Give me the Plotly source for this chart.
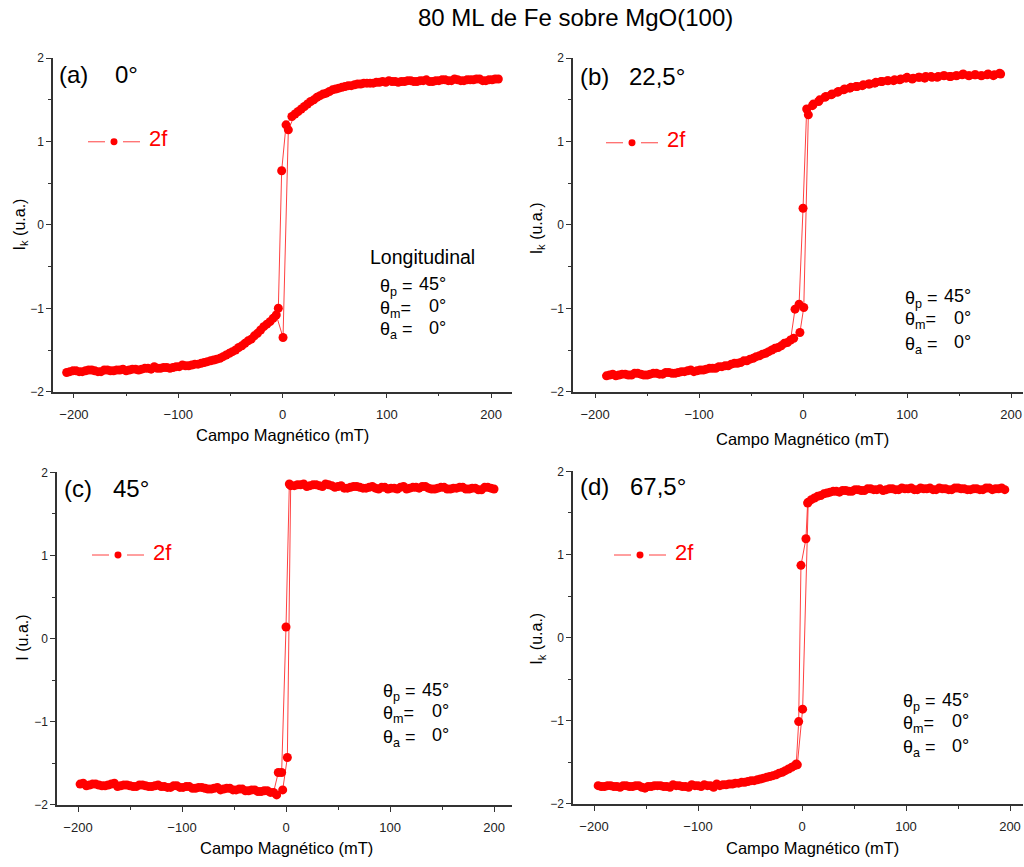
import plotly.graph_objects as go

W, H = 1024, 867
FONT = "Liberation Sans, Arial, sans-serif"
RED = "#ff0000"

# ---------------- data (field in mT, Kerr intensity in a.u.) ----------------
# (a) 0 deg
a_down_x = [207, 201, 195, 189, 183, 177, 171, 165, 159, 153, 147, 141, 135, 129, 123, 117, 111, 105, 99, 93,
            87, 81, 75, 69, 63, 57, 51, 45, 39, 33, 27, 21, 15, 9,
            3.4, -0.8, -4,
            -9, -15, -21, -27, -33, -39, -45, -51, -57, -63, -69, -75, -81, -87, -93, -99, -105, -111, -117,
            -123, -129, -135, -141, -147, -153, -159, -165, -171, -177, -183, -189, -195, -201, -207]
a_down_y = [1.75, 1.74, 1.73, 1.75, 1.74, 1.74, 1.73, 1.75, 1.73, 1.74, 1.73, 1.72, 1.73, 1.72, 1.73, 1.72, 1.71,
            1.72, 1.71, 1.71, 1.70, 1.70, 1.69, 1.68, 1.67, 1.65, 1.63, 1.60, 1.57, 1.53, 1.48, 1.42, 1.36, 1.30,
            1.20, 0.65, -1.00,
            -1.12, -1.19, -1.26, -1.33, -1.39, -1.45, -1.50, -1.54, -1.58, -1.61, -1.63, -1.65, -1.67, -1.68,
            -1.69, -1.70, -1.71, -1.71, -1.72, -1.70, -1.72, -1.73, -1.73, -1.74, -1.73, -1.74, -1.75, -1.74,
            -1.76, -1.74, -1.75, -1.76, -1.75, -1.77]
a_up_x = [-204, -198, -192, -186, -180, -174, -168, -162, -156, -150, -144, -138, -132, -126, -120, -114, -108,
          -102, -96, -90, -84, -78, -72, -66, -60, -54, -48, -42, -36, -30, -24, -18, -12, -6,
          0.5, 5.6,
          12, 18, 24, 30, 36, 42, 48, 54, 60, 66, 72, 78, 84, 90, 96, 102, 108, 114, 120, 126, 132, 138, 144,
          150, 156, 162, 168, 174, 180, 186, 192, 198, 204]
a_up_y = [-1.76, -1.75, -1.76, -1.74, -1.75, -1.76, -1.74, -1.75, -1.74, -1.75, -1.73, -1.74, -1.72, -1.73,
          -1.72, -1.71, -1.72, -1.70, -1.68, -1.69, -1.67, -1.66, -1.64, -1.62, -1.60, -1.56, -1.52, -1.47,
          -1.42, -1.37, -1.30, -1.22, -1.16, -1.08,
          -1.35, 1.14,
          1.33, 1.39, 1.45, 1.50, 1.55, 1.58, 1.62, 1.64, 1.66, 1.67, 1.69, 1.70, 1.70, 1.71, 1.72, 1.73, 1.72,
          1.72, 1.73, 1.72, 1.73, 1.74, 1.72, 1.73, 1.74, 1.73, 1.74, 1.73, 1.74, 1.75, 1.73, 1.74, 1.75]

# (b) 22,5 deg
b_down_x = [190, 184, 178, 172, 166, 160, 154, 148, 142, 136, 130, 124, 118, 112, 106, 100, 94, 88, 82, 76, 70,
            64, 58, 52, 46, 40, 34, 28, 22, 16, 10,
            3.5, 0, -3.8, -7.7,
            -12, -18, -24, -30, -36, -42, -48, -54, -60, -66, -72, -78, -84, -90, -96, -102, -108, -114, -120,
            -126, -132, -138, -144, -150, -156, -162, -168, -174, -180, -186]
b_down_y = [1.81, 1.80, 1.81, 1.79, 1.80, 1.79, 1.81, 1.79, 1.78, 1.79, 1.78, 1.77, 1.78, 1.77, 1.76, 1.77, 1.75,
            1.74, 1.73, 1.72, 1.71, 1.69, 1.68, 1.66, 1.65, 1.63, 1.60, 1.57, 1.54, 1.50, 1.45,
            1.39, 0.20, -0.95, -1.01,
            -1.38, -1.42, -1.47, -1.50, -1.54, -1.57, -1.60, -1.63, -1.65, -1.66, -1.69, -1.70, -1.72, -1.72,
            -1.74, -1.75, -1.74, -1.76, -1.77, -1.78, -1.77, -1.79, -1.78, -1.80, -1.79, -1.78, -1.80, -1.79,
            -1.81, -1.80]
b_up_x = [-189, -183, -177, -171, -165, -159, -153, -147, -141, -135, -129, -123, -117, -111, -105, -99, -93,
          -87, -81, -75, -69, -63, -57, -51, -45, -39, -33, -27, -21, -15, -9,
          -3, 0.7, 5.1,
          9, 15, 21, 27, 33, 39, 45, 51, 57, 63, 69, 75, 81, 87, 93, 99, 105, 111, 117, 123, 129, 135, 141,
          147, 153, 159, 165, 171, 177, 183, 189]
b_up_y = [-1.81, -1.79, -1.80, -1.79, -1.80, -1.78, -1.80, -1.79, -1.78, -1.79, -1.77, -1.78, -1.76, -1.75,
          -1.76, -1.74, -1.73, -1.72, -1.70, -1.69, -1.67, -1.66, -1.63, -1.61, -1.58, -1.55, -1.52, -1.48,
          -1.45, -1.41, -1.36,
          -1.29, -0.99, 1.32,
          1.43, 1.48, 1.53, 1.56, 1.59, 1.62, 1.64, 1.66, 1.67, 1.69, 1.70, 1.72, 1.73, 1.73, 1.74, 1.76, 1.75,
          1.77, 1.76, 1.78, 1.77, 1.79, 1.78, 1.79, 1.80, 1.79, 1.80, 1.79, 1.80, 1.79, 1.82]

# (c) 45 deg
c_down_x = [200, 194, 188, 182, 176, 170, 164, 158, 152, 146, 140, 134, 128, 122, 116, 110, 104, 98, 92, 86, 80,
            74, 68, 62, 56, 50, 44, 38, 32, 26, 20, 14, 8,
            3.2, 0, -4.2, -7.4,
            -12, -18, -24, -30, -36, -42, -48, -54, -60, -66, -72, -78, -84, -90, -96, -102, -108, -114, -120,
            -126, -132, -138, -144, -150, -156, -162, -168, -174, -180, -186, -192, -198]
c_down_y = [1.80, 1.82, 1.79, 1.81, 1.80, 1.82, 1.81, 1.80, 1.82, 1.81, 1.80, 1.83, 1.81, 1.82, 1.80, 1.82, 1.81,
            1.80, 1.82, 1.81, 1.82, 1.81, 1.83, 1.82, 1.81, 1.83, 1.84, 1.86, 1.84, 1.85, 1.83, 1.85, 1.84,
            1.86, 0.14, -1.61, -1.61,
            -1.85, -1.83, -1.84, -1.82, -1.83, -1.81, -1.82, -1.80, -1.81, -1.79, -1.81, -1.80, -1.79, -1.80,
            -1.78, -1.79, -1.77, -1.79, -1.78, -1.77, -1.78, -1.76, -1.78, -1.77, -1.76, -1.78, -1.75, -1.77,
            -1.76, -1.75, -1.77, -1.75]
c_up_x = [-195, -189, -183, -177, -171, -165, -159, -153, -147, -141, -135, -129, -123, -117, -111, -105, -99,
          -93, -87, -81, -75, -69, -63, -57, -51, -45, -39, -33, -27, -21, -15, -9,
          -3.2, 1.3, 4.5,
          11, 17, 23, 29, 35, 41, 47, 53, 59, 65, 71, 77, 83, 89, 95, 101, 107, 113, 119, 125, 131, 137, 143,
          149, 155, 161, 167, 173, 179, 185, 191, 197]
c_up_y = [-1.74, -1.76, -1.75, -1.77, -1.76, -1.74, -1.77, -1.76, -1.78, -1.76, -1.77, -1.78, -1.76, -1.78,
          -1.79, -1.77, -1.79, -1.78, -1.80, -1.79, -1.81, -1.80, -1.82, -1.80, -1.82, -1.81, -1.83, -1.82,
          -1.84, -1.83, -1.85, -1.88,
          -1.82, -1.43, 1.84,
          1.85, 1.86, 1.84, 1.85, 1.83, 1.85, 1.82, 1.84, 1.81, 1.83, 1.82, 1.81, 1.83, 1.80, 1.82, 1.81, 1.80,
          1.83, 1.81, 1.82, 1.83, 1.81, 1.80, 1.82, 1.80, 1.81, 1.82, 1.80, 1.81, 1.79, 1.82, 1.81]

# (d) 67,5 deg
d_down_x = [195, 189, 183, 177, 171, 165, 159, 153, 147, 141, 135, 129, 123, 117, 111, 105, 99, 93, 87, 81, 75,
            69, 63, 57, 51, 45, 39, 33, 27, 21, 15, 9,
            5.4, 3.8, -1.0, -3.2, -5.5,
            -10, -16, -22, -28, -34, -40, -46, -52, -58, -64, -70, -76, -82, -88, -94, -100, -106, -112, -118,
            -124, -130, -136, -142, -148, -154, -160, -166, -172, -178, -184, -190, -196]
d_down_y = [1.78, 1.79, 1.78, 1.80, 1.78, 1.79, 1.78, 1.79, 1.80, 1.78, 1.79, 1.78, 1.80, 1.79, 1.78, 1.80, 1.79,
            1.78, 1.79, 1.78, 1.79, 1.78, 1.79, 1.77, 1.78, 1.76, 1.77, 1.76, 1.75, 1.73, 1.70, 1.66,
            1.62, 1.19, 0.87, -1.01, -1.52,
            -1.56, -1.60, -1.63, -1.66, -1.68, -1.70, -1.72, -1.73, -1.74, -1.75, -1.76, -1.77, -1.76, -1.78,
            -1.77, -1.78, -1.77, -1.79, -1.78, -1.77, -1.79, -1.78, -1.78, -1.79, -1.80, -1.78, -1.79, -1.78,
            -1.79, -1.78, -1.79, -1.78]
d_up_x = [-193, -187, -181, -175, -169, -163, -157, -151, -145, -139, -133, -127, -121, -115, -109, -103, -97,
          -91, -85, -79, -73, -67, -61, -55, -49, -43, -37, -31, -25, -19, -13, -7,
          -4.5, 0.6, 6.0,
          12, 18, 24, 30, 36, 42, 48, 54, 60, 66, 72, 78, 84, 90, 96, 102, 108, 114, 120, 126, 132, 138, 144,
          150, 156, 162, 168, 174, 180, 186, 192]
d_up_y = [-1.79, -1.78, -1.79, -1.80, -1.78, -1.79, -1.78, -1.81, -1.79, -1.78, -1.79, -1.80, -1.78, -1.79,
          -1.80, -1.78, -1.79, -1.78, -1.80, -1.78, -1.77, -1.76, -1.75, -1.74, -1.72, -1.71, -1.69, -1.67,
          -1.65, -1.62, -1.58, -1.54,
          -1.53, -0.86, 1.63,
          1.68, 1.71, 1.74, 1.76, 1.75, 1.77, 1.76, 1.78, 1.77, 1.79, 1.78, 1.77, 1.79, 1.78, 1.80, 1.79, 1.78,
          1.80, 1.79, 1.78, 1.80, 1.79, 1.78, 1.80, 1.79, 1.78, 1.79, 1.78, 1.80, 1.79, 1.80]

x_ticks = [-200, -100, 0, 100, 200]
y_ticks = [-2, -1, 0, 1, 2]

title_text = "80 ML de Fe sobre MgO(100)"
x_title = "Campo Magnético (mT)"
panel_tags = ["(a)", "(b)", "(c)", "(d)"]
panel_angles = ["0°", "22,5°", "45°", "67,5°"]
y_titles = ["I<sub>k</sub> (u.a.)", "I<sub>k</sub> (u.a.)", "I (u.a.)", "I<sub>k</sub> (u.a.)"]
series_name = "2f"

for xs, ys in [(a_down_x, a_down_y), (a_up_x, a_up_y), (b_down_x, b_down_y), (b_up_x, b_up_y),
               (c_down_x, c_down_y), (c_up_x, c_up_y), (d_down_x, d_down_y), (d_up_x, d_up_y)]:
    assert len(xs) == len(ys), (len(xs), len(ys))

# ---------------- layout geometry (pixels) ----------------
panels = [
    dict(x=a_down_x + a_up_x, y=a_down_y + a_up_y, xpx=(53, 512), ypx=(52, 391), xr=(-220.1, 220.1),
         tag=(57, 69), ang=(113, 69), leg=(88, 137), xt=(282, 435), yt=(20, 221),
         info=dict(left=378, right=448, ys=(283, 305, 327)), longi=(368, 254)),
    dict(x=b_down_x + b_up_x, y=b_down_y + b_up_y, xpx=(573, 1023), ypx=(52, 391), xr=(-221.2, 211.5),
         tag=(578, 71), ang=(627, 71), leg=(606, 138), xt=(802, 439), yt=(537, 225),
         info=dict(left=903, right=973, ys=(295, 317, 342)), longi=None),
    dict(x=c_down_x + c_up_x, y=c_down_y + c_up_y, xpx=(57, 512), ypx=(473, 811), xr=(-220.2, 217.3),
         tag=(62, 489), ang=(111, 489), leg=(92, 557), xt=(286, 855), yt=(23, 641),
         info=dict(left=381, right=451, ys=(695, 717, 741)), longi=None),
    dict(x=d_down_x + d_up_x, y=d_down_y + d_up_y, xpx=(573, 1023), ypx=(472, 810), xr=(-220.2, 212.5),
         tag=(578, 487), ang=(628, 487), leg=(614, 557), xt=(812, 855), yt=(538, 642),
         info=dict(left=901, right=971, ys=(705, 727, 752)), longi=None),
]


def PX(x):
    return x / W


def PY(y):
    return 1 - y / H


def ann(text, x, y, size, color="#000000", xanchor="left", yanchor="middle", angle=0):
    return dict(text=text, x=PX(x), y=PY(y), xref="paper", yref="paper", showarrow=False,
                xanchor=xanchor, yanchor=yanchor, textangle=angle,
                font=dict(family=FONT, size=size, color=color))


fig = go.Figure()
layout = dict(width=W, height=H, margin=dict(l=0, r=0, t=0, b=0), autosize=False,
              paper_bgcolor="white", plot_bgcolor="white", showlegend=False)
annotations = [ann(title_text, 575, 11, 24, xanchor="center")]
shapes = []

AX = "#333333"
for i, p in enumerate(panels):
    n = "" if i == 0 else str(i + 1)
    fig.add_trace(go.Scatter(
        x=p["x"], y=p["y"], mode="lines+markers", name=series_name,
        line=dict(color="rgba(255,0,0,0.75)", width=1),
        marker=dict(color=RED, size=9, line=dict(width=0)),
        xaxis="x" + n, yaxis="y" + n, showlegend=False))
    layout["xaxis" + n] = dict(
        domain=[PX(p["xpx"][0]), PX(p["xpx"][1])], range=list(p["xr"]), anchor="y" + n,
        tickmode="array", tickvals=x_ticks, ticks="outside", ticklen=5, tickwidth=1.2, tickcolor=AX,
        minor=dict(ticks="outside", ticklen=3, tickwidth=1.2, tickcolor=AX, dtick=50, tick0=0),
        showline=True, linecolor=AX, linewidth=1.5, showgrid=False, zeroline=False,
        ticklabelstandoff=5,
        tickfont=dict(family=FONT, size=13, color="#222222"))
    layout["yaxis" + n] = dict(
        domain=[PY(p["ypx"][1]), PY(p["ypx"][0])], range=[-2, 2], anchor="x" + n,
        tickmode="array", tickvals=y_ticks, ticks="outside", ticklen=5, tickwidth=1.2, tickcolor=AX,
        minor=dict(ticks="outside", ticklen=3, tickwidth=1.2, tickcolor=AX, dtick=0.5, tick0=0),
        showline=True, linecolor=AX, linewidth=1.5, showgrid=False, zeroline=False,
        tickfont=dict(family=FONT, size=12, color="#222222"))

    # panel label and angle
    annotations.append(ann(panel_tags[i], p["tag"][0], p["tag"][1], 24))
    annotations.append(ann(panel_angles[i], p["ang"][0], p["ang"][1], 24))
    # axis titles
    annotations.append(ann(x_title, p["xt"][0], p["xt"][1], 16.5, xanchor="center"))
    annotations.append(ann(y_titles[i], p["yt"][0], p["yt"][1], 16, xanchor="center", angle=-90))

    # legend sample: line - dot - line, then "2f"
    lx, ly = p["leg"]
    shapes.append(dict(type="line", xref="paper", yref="paper", x0=PX(lx), x1=PX(lx + 17),
                       y0=PY(ly), y1=PY(ly), line=dict(color="rgba(255,0,0,0.75)", width=1)))
    shapes.append(dict(type="line", xref="paper", yref="paper", x0=PX(lx + 35), x1=PX(lx + 52),
                       y0=PY(ly), y1=PY(ly), line=dict(color="rgba(255,0,0,0.75)", width=1)))
    shapes.append(dict(type="circle", xref="paper", yref="paper", x0=PX(lx + 22.5), x1=PX(lx + 29.5),
                       y0=PY(ly + 3.5), y1=PY(ly - 3.5), fillcolor=RED, line=dict(width=0)))
    annotations.append(ann(series_name, lx + 59, ly - 3, 22, color=RED))

    # measurement geometry block
    if p["longi"] is not None:
        annotations.append(ann("Longitudinal", p["longi"][0], p["longi"][1], 19.5))
    inf = p["info"]
    labels = ["θ<sub>p</sub> =", "θ<sub>m</sub>=", "θ<sub>a</sub> ="]
    values = ["45°", "0°", "0°"]
    for lab, val, yy in zip(labels, values, inf["ys"]):
        annotations.append(ann(lab, inf["left"], yy + 2, 18))
        annotations.append(ann(val, inf["right"], yy - 1, 18, xanchor="right"))

layout["annotations"] = annotations
layout["shapes"] = shapes
fig.update_layout(**layout)
fig.write_html("out.html")
